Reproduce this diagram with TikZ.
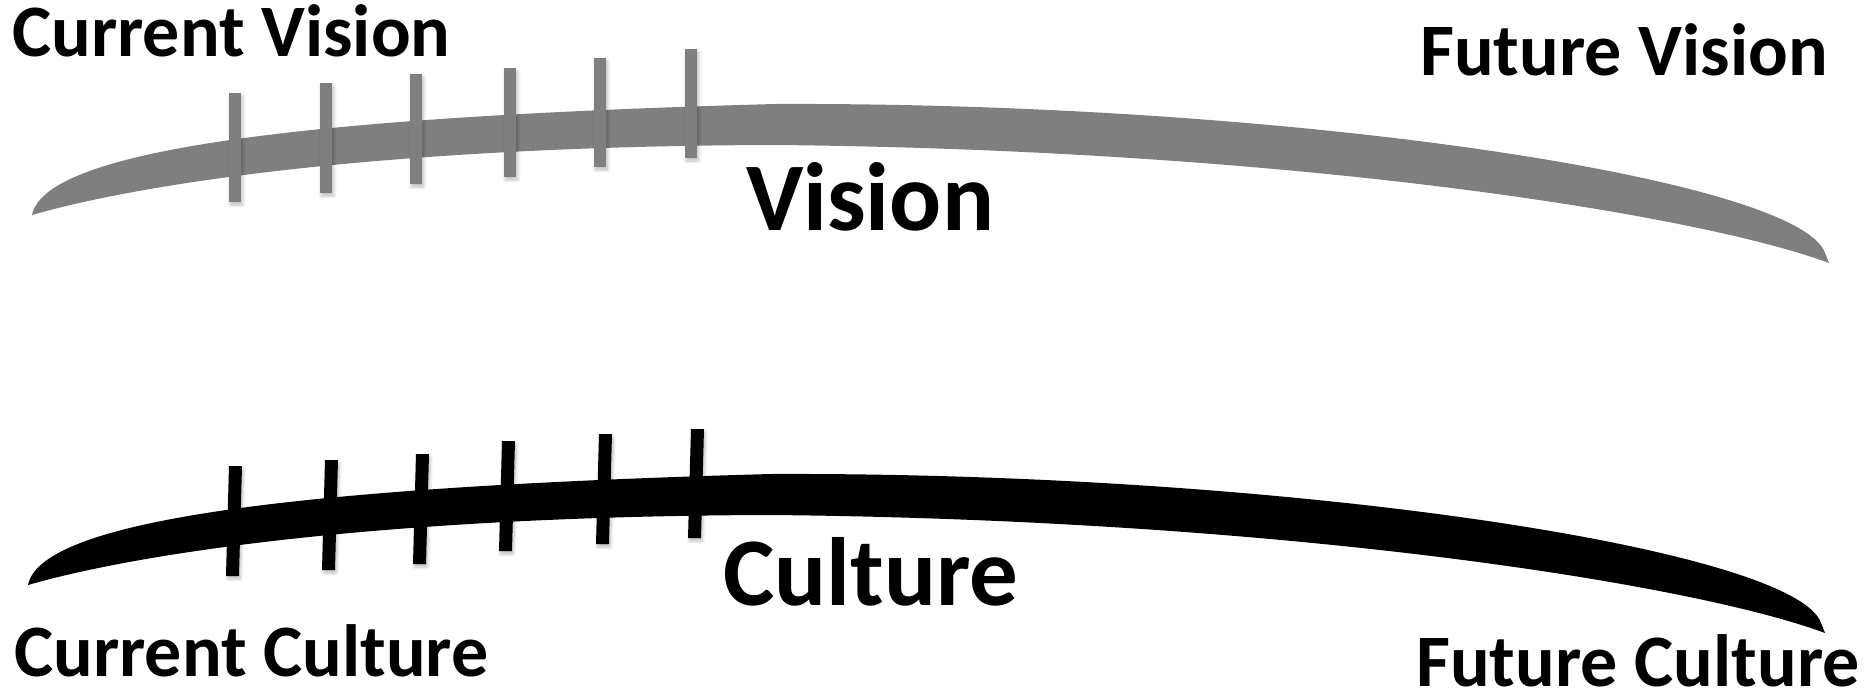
\documentclass[tikz,border=0pt]{standalone}
\usepackage{fontspec}
\setmainfont{Carlito}
\usetikzlibrary{shadows.blur}
\definecolor{visiongray}{RGB}{127,127,127}
\tikzset{
  lbl/.style={font=\bfseries\fontsize{74}{86}\selectfont, inner sep=0pt},
  biglbl/.style={font=\bfseries\fontsize{97}{110}\selectfont, inner sep=0pt},
  tickmark/.style={blur shadow={shadow xshift=1.5pt, shadow yshift=-3pt, shadow opacity=25, shadow blur steps=6, shadow blur radius=3pt}},
  band/.pic={
    \fill (32,215) .. controls (45,150) and (300,117) .. (775,104)
      .. controls (1300,102) and (1800,180) .. (1825,253) -- (1829,263)
      .. controls (1700,215) and (1300,150) .. (775,145)
      .. controls (400,146) and (150,181) .. (32,215) -- cycle;
  }
}
\begin{document}
\begin{tikzpicture}[x=1pt,y=-1pt]
\useasboundingbox (0,0) rectangle (1870,695);
% Vision band
\begin{scope}[fill=visiongray]
  \pic {band};
\end{scope}
\foreach \x/\a/\b in {235/93/202, 326/83/193, 416/74/184, 510/68/177, 600/58/167, 691/49/158}
  \fill[visiongray, tickmark] (\x-6.3,\a) rectangle (\x+6.3,\b);
% Culture band
\begin{scope}[shift={(-4,370)}, fill=black]
  \pic {band};
\end{scope}
\foreach \x/\a/\b in {234/466/576, 330/460/570, 421/454/564, 507/441/551, 604/434/544, 696/429/538}
  \fill[black, tickmark] (\x-5.0,\a) -- (\x+8.0,\a) -- (\x+5.0,\b) -- (\x-8.0,\b) -- cycle;
% Labels
\node[lbl, anchor=base west] (cv) at (12,57) {Current Vision};
\node[lbl, anchor=base east] (fv) at (1828,76) {Future Vision};
\node[biglbl, anchor=base] (v) at (870,230) {Vision};
\node[biglbl, anchor=base] (c) at (871,605) {Culture};
\node[lbl, anchor=base west] (cc) at (14,676) {Current Culture};
\node[lbl, anchor=base east] (fc) at (1860,686) {Future Culture};
\end{tikzpicture}
\end{document}
